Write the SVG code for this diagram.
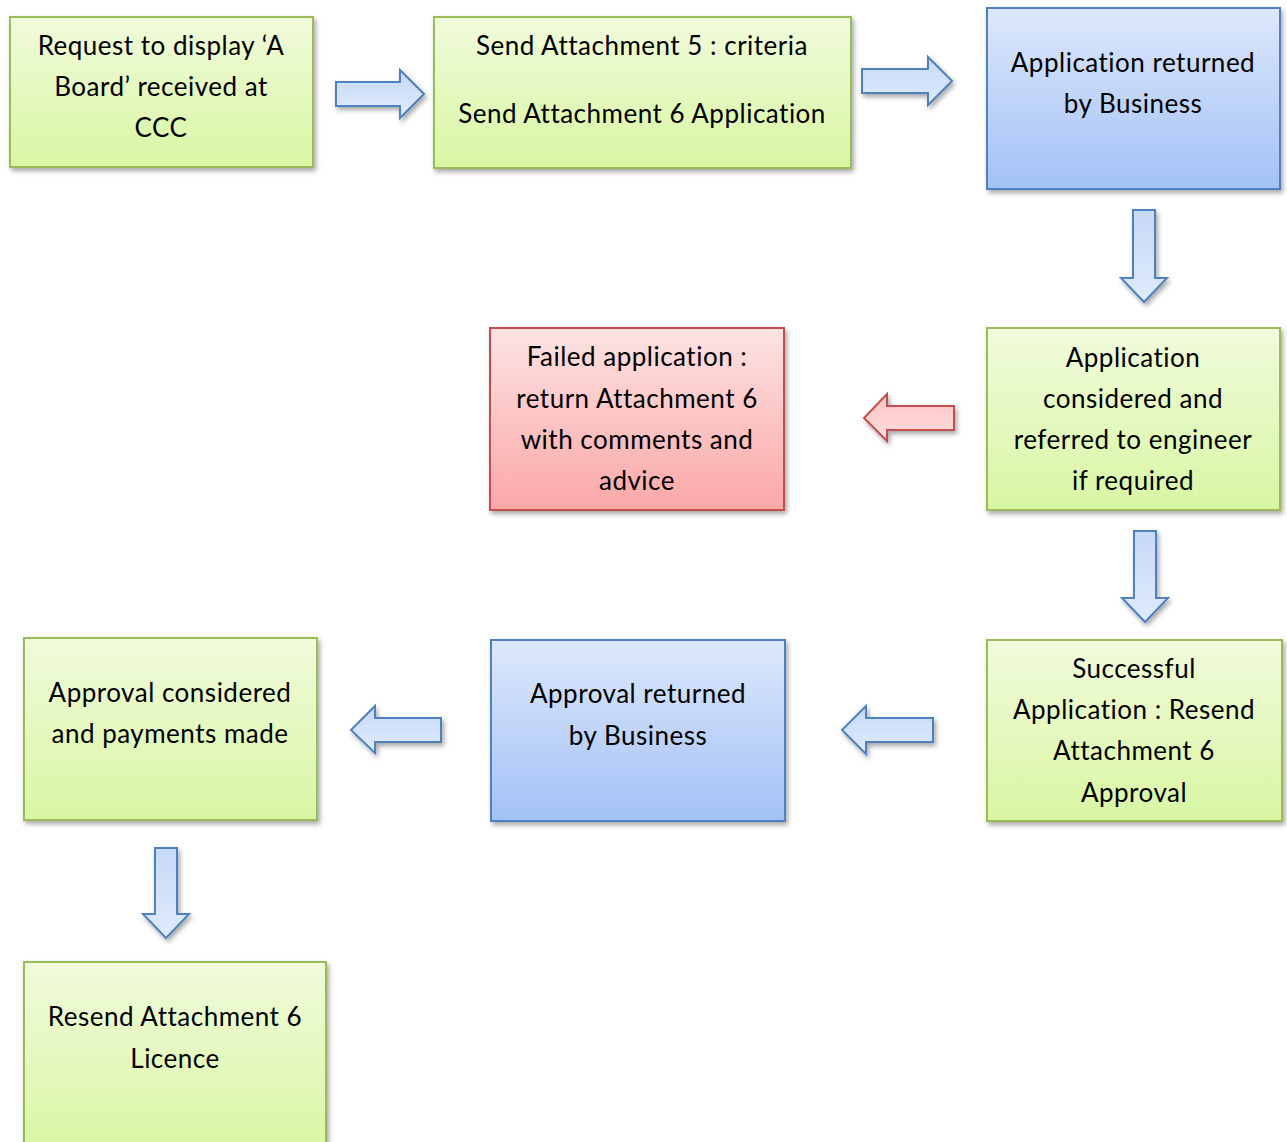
<svg xmlns="http://www.w3.org/2000/svg" width="1287" height="1142" viewBox="0 0 1287 1142">
<style>
text{font-family:Lato,"Open Sans","Liberation Sans",sans-serif;font-size:26px;letter-spacing:0.5px;fill:#000;text-anchor:middle}
.g{fill:url(#gg);stroke:#9bbb59;stroke-width:2}
.b{fill:url(#gb);stroke:#4f81bd;stroke-width:2}
.r{fill:url(#gr);stroke:#c0504d;stroke-width:2}
.ab{fill:url(#ga);stroke:#4f81bd;stroke-width:2}
.ar{fill:url(#gar);stroke:#c0504d;stroke-width:2}
</style>
<defs>
<linearGradient id="gg" x1="0" y1="0" x2="0" y2="1"><stop offset="0" stop-color="#f1fbdc"/><stop offset="1" stop-color="#d8f6a3"/></linearGradient>
<linearGradient id="gb" x1="0" y1="0" x2="0" y2="1"><stop offset="0" stop-color="#dde8fb"/><stop offset="1" stop-color="#a3c1f6"/></linearGradient>
<linearGradient id="gr" x1="0" y1="0" x2="0" y2="1"><stop offset="0" stop-color="#fde3e3"/><stop offset="1" stop-color="#fba7a7"/></linearGradient>
<linearGradient id="ga" x1="0" y1="0" x2="0" y2="1"><stop offset="0" stop-color="#c6d9f7"/><stop offset="1" stop-color="#e0ebfc"/></linearGradient>
<linearGradient id="gar" x1="0" y1="0" x2="0" y2="1"><stop offset="0" stop-color="#ffc3c3"/><stop offset="1" stop-color="#ffdede"/></linearGradient>
<filter id="sh" x="-10%" y="-10%" width="130%" height="130%"><feDropShadow dx="2" dy="3" stdDeviation="2.5" flood-color="#000" flood-opacity="0.35"/></filter>
</defs>
<g id="connectors" filter="url(#sh)">
<path class="ab" d="M336,82 H400 V70 L424,94 L400,118 V106 H336 Z"/>
<path class="ab" d="M862,69 H928 V57 L952,81 L928,105 V93 H862 Z"/>
<path class="ab" d="M1133,210 H1155 V278 H1167 L1144,302 L1121,278 H1133 Z"/>
<path class="ar" d="M954,406 H887 V394 L864,418 L887,441 V430 H954 Z"/>
<path class="ab" d="M1134,531 H1156 V598 H1168 L1145,622 L1122,598 H1134 Z"/>
<path class="ab" d="M933,718 H866 V706 L842,730 L866,754 V742 H933 Z"/>
<path class="ab" d="M441,718 H375 V706 L351,730 L375,753 V742 H441 Z"/>
<path class="ab" d="M155,848 H177 V914 H189 L166,938 L143,914 H155 Z"/>
</g>
<g id="n1" filter="url(#sh)"><rect class="g" x="10" y="17" width="303" height="150"/></g>
<g id="n1t"><text x="161" y="55">Request to display ‘A</text><text x="161" y="96">Board’ received at</text><text x="161" y="137">CCC</text></g>
<g id="n2" filter="url(#sh)"><rect class="g" x="434" y="17" width="417" height="151"/></g>
<g id="n2t"><text x="642" y="55">Send Attachment 5 : criteria</text><text x="642" y="123">Send Attachment 6 Application</text></g>
<g id="n3" filter="url(#sh)"><rect class="b" x="987" y="8" width="293" height="181"/></g>
<g id="n3t"><text x="1133" y="72">Application returned</text><text x="1133" y="113">by Business</text></g>
<g id="n4" filter="url(#sh)"><rect class="g" x="987" y="328" width="293" height="182"/></g>
<g id="n4t"><text x="1133" y="367">Application</text><text x="1133" y="408">considered and</text><text x="1133" y="449">referred to engineer</text><text x="1133" y="490">if required</text></g>
<g id="n5" filter="url(#sh)"><rect class="r" x="490" y="328" width="294" height="182"/></g>
<g id="n5t"><text x="637" y="366">Failed application :</text><text x="637" y="408">return Attachment 6</text><text x="637" y="449">with comments and</text><text x="637" y="490">advice</text></g>
<g id="n6" filter="url(#sh)"><rect class="g" x="987" y="640" width="295" height="181"/></g>
<g id="n6t"><text x="1134" y="678">Successful</text><text x="1134" y="719">Application : Resend</text><text x="1134" y="760">Attachment 6</text><text x="1134" y="802">Approval</text></g>
<g id="n7" filter="url(#sh)"><rect class="b" x="491" y="640" width="294" height="181"/></g>
<g id="n7t"><text x="638" y="703">Approval returned</text><text x="638" y="745">by Business</text></g>
<g id="n8" filter="url(#sh)"><rect class="g" x="24" y="638" width="293" height="182"/></g>
<g id="n8t"><text x="170" y="702">Approval considered</text><text x="170" y="743">and payments made</text></g>
<g id="n9" filter="url(#sh)"><rect class="g" x="24" y="962" width="302" height="190"/></g>
<g id="n9t"><text x="175" y="1026">Resend Attachment 6</text><text x="175" y="1068">Licence</text></g>
</svg>
